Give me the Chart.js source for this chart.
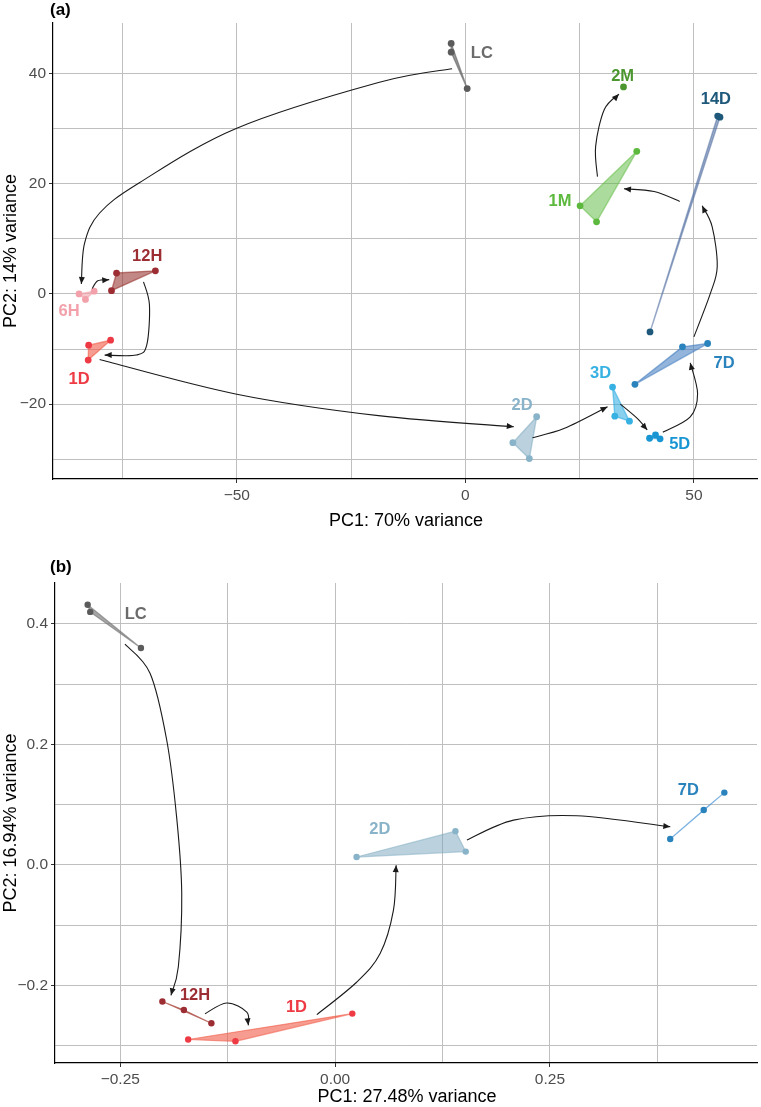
<!DOCTYPE html>
<html>
<head>
<meta charset="utf-8">
<script src="https://cdn.jsdelivr.net/npm/chart.js@4.4.1/dist/chart.umd.min.js"></script>
<style>
  body { margin: 0; background: #fff; }
  #wrap { position: relative; width: 761px; height: 1107px; }
  canvas { position: absolute; left: 0; }
</style>
</head>
<body>
<div id="wrap">
  <canvas id="chartA" width="761" height="540" style="top:0"></canvas>
  <canvas id="chartB" width="761" height="567" style="top:540px"></canvas>
</div>
<script>
// ---- panel (a) ----
const groupsA = ['LC', '6H', '12H', '1D', '2D', '3D', '5D', '7D', '14D', '1M', '2M'];
const pc1A = [
  [-3.1, -3.1, 0.4],
  [-84.5, -83.1, -81.2],
  [-76.3, -67.8, -77.4],
  [-82.4, -77.6, -82.5],
  [15.6, 10.4, 14.0],
  [32.2, 32.7, 35.9],
  [40.3, 41.6, 42.6],
  [37.1, 47.5, 53.0],
  [40.4, 55.2, 55.7],
  [37.5, 25.1, 28.7],
  [34.6]
];
const pc2A = [
  [45.5, 43.9, 37.3],
  [0.0, -1.0, 0.5],
  [3.8, 4.2, 0.6],
  [-9.3, -8.4, -12.0],
  [-22.3, -27.0, -29.9],
  [-16.9, -22.2, -23.1],
  [-26.2, -25.6, -26.3],
  [-16.4, -9.6, -9.0],
  [-6.9, 32.3, 32.1],
  [25.9, 16.0, 13.1],
  [37.6]
];
// where each group name sits (data units)
const labelPosA = [
  [3.6, 43.6], [-86.7, -3.1], [-69.6, 6.8], [-84.5, -15.5], [12.4, -20.2],
  [29.6, -14.5], [46.9, -27.3], [56.6, -12.6], [54.8, 35.4], [20.7, 16.8], [34.4, 39.5]
];
// trajectory arrows (data units, through-points)
const arrowsA = [
  [[-2.9, 40.9], [-19.0, 38.4], [-50.0, 30.1], [-71.3, 20.2], [-80.0, 14.7], [-83.3, 9.2], [-84.0, 1.8]],
  [[-81.6, 1.0], [-80.4, 2.4], [-77.9, 2.6]],
  [[-70.4, 2.2], [-69.1, -2.0], [-69.7, -9.3], [-72.0, -11.1], [-78.9, -11.1]],
  [[-80.0, -11.9], [-50.0, -18.2], [-19.0, -22.1], [10.6, -24.1]],
  [[14.7, -26.1], [21.7, -24.4], [31.1, -20.5]],
  [[33.9, -20.0], [37.6, -22.6], [39.8, -24.7]],
  [[43.2, -25.1], [49.2, -22.3], [50.8, -18.1], [49.2, -12.5]],
  [[50.0, -7.8], [53.6, 0.1], [55.1, 5.0], [54.0, 12.2], [51.8, 16.0]],
  [[46.9, 16.8], [41.3, 18.6], [34.7, 19.1]],
  [[28.9, 21.3], [28.5, 26.8], [30.4, 33.5], [33.6, 36.3]]
];
const xTicksA = [-75, -50, -25, 0, 25, 50];
const xMajorA = [-50, 0, 50];
const yTicksA = [-30, -20, -10, 0, 10, 20, 30, 40];
const yMajorA = [-20, 0, 20, 40];

const pointColA = ['#5b5b5b', '#f2a1aa', '#9b2d33', '#ee3a44', '#89b3c8', '#36b1e2',
  '#1796d3', '#2a83bd', '#1e587b', '#5cb93d', '#4c962f'];
const hullColA = ['rgba(110,110,110,0.7)', 'rgba(242,161,170,0.6)', 'rgba(150,50,45,0.58)',
  'rgba(240,90,70,0.6)', 'rgba(120,165,190,0.5)', 'rgba(40,170,225,0.55)', 'rgba(25,150,210,0.5)',
  'rgba(60,120,190,0.55)', 'rgba(80,110,160,0.55)', 'rgba(90,185,60,0.5)', 'rgba(76,150,47,0.5)'];
const labelColA = ['#6b6b6b', '#f2a1aa', '#9b2d33', '#ee3a44', '#89b3c8', '#36b1e2',
  '#1796d3', '#2a83bd', '#1e587b', '#5cb93d', '#4c962f'];

// ---- panel (b) ----
const groupsB = ['LC', '12H', '1D', '2D', '7D'];
const pc1B = [
  [-0.288, -0.285, -0.226],
  [-0.201, -0.176, -0.144],
  [-0.171, -0.116, 0.020],
  [0.025, 0.140, 0.152],
  [0.390, 0.429, 0.453]
];
const pc2B = [
  [0.432, 0.420, 0.360],
  [-0.227, -0.241, -0.263],
  [-0.290, -0.293, -0.247],
  [0.013, 0.056, 0.022],
  [0.043, 0.091, 0.120]
];
const labelPosB = [[-0.232, 0.415], [-0.163, -0.217], [-0.045, -0.236], [0.052, 0.058], [0.411, 0.123]];
const arrowsB = [
  [[-0.2446, 0.3664], [-0.2154, 0.3182], [-0.196, 0.2073], [-0.1843, 0.0771], [-0.1785, -0.0475], [-0.1825, -0.1696], [-0.191, -0.2166]],
  [[-0.1514, -0.2471], [-0.1261, -0.2294], [-0.1028, -0.2444], [-0.1010, -0.2665]],
  [[-0.0213, -0.2488], [0.0253, -0.1945], [0.0524, -0.1473], [0.0679, -0.0753], [0.0710, -0.0005]],
  [[0.1534, 0.0411], [0.2077, 0.0743], [0.2815, 0.0815], [0.3901, 0.0632]]
];
const xTicksB = [-0.25, -0.125, 0, 0.125, 0.25, 0.375];
const xMajorB = [-0.25, 0, 0.25];
const yTicksB = [-0.3, -0.2, -0.1, 0, 0.1, 0.2, 0.3, 0.4];
const yMajorB = [-0.2, 0, 0.2, 0.4];

const pointColB = ['#5b5b5b', '#9b2d33', '#ee3a44', '#89b3c8', '#2a83bd'];
const hullColB = ['rgba(120,120,120,0.65)', 'rgba(170,70,60,0.7)', 'rgba(240,90,70,0.6)',
  'rgba(120,165,190,0.5)', 'rgba(60,140,210,0.65)'];
const labelColB = ['#6b6b6b', '#9b2d33', '#ee3a44', '#89b3c8', '#2a83bd'];

const FONT = "'Liberation Sans', Arial, sans-serif";
const GRID = '#bfbfbf';

function isMajor(list, v) {
  return list.some(m => Math.abs(m - v) < 1e-9);
}

function drawArrow(ctx, pts) {
  ctx.beginPath();
  ctx.moveTo(pts[0].x, pts[0].y);
  let c2 = pts[0];
  for (let i = 0; i < pts.length - 1; i++) {
    const p0 = pts[Math.max(i - 1, 0)], p1 = pts[i], p2 = pts[i + 1], p3 = pts[Math.min(i + 2, pts.length - 1)];
    const c1 = { x: p1.x + (p2.x - p0.x) / 6, y: p1.y + (p2.y - p0.y) / 6 };
    c2 = { x: p2.x - (p3.x - p1.x) / 6, y: p2.y - (p3.y - p1.y) / 6 };
    ctx.bezierCurveTo(c1.x, c1.y, c2.x, c2.y, p2.x, p2.y);
  }
  ctx.stroke();
  const end = pts[pts.length - 1];
  const a = Math.atan2(end.y - c2.y, end.x - c2.x);
  const len = 7, half = 3;
  ctx.beginPath();
  ctx.moveTo(end.x, end.y);
  ctx.lineTo(end.x - len * Math.cos(a) + half * Math.sin(a), end.y - len * Math.sin(a) - half * Math.cos(a));
  ctx.lineTo(end.x - len * Math.cos(a) - half * Math.sin(a), end.y - len * Math.sin(a) + half * Math.cos(a));
  ctx.closePath();
  ctx.fill();
}

function makeDecor(spec) {
  return {
    id: 'decor',
    beforeDatasetsDraw(chart) {
      const { ctx, scales: { x, y } } = chart;
      ctx.save();
      spec.xs.forEach((xs, g) => {
        if (xs.length < 2) return;
        ctx.beginPath();
        xs.forEach((v, i) => {
          const px = x.getPixelForValue(v), py = y.getPixelForValue(spec.ys[g][i]);
          if (i === 0) ctx.moveTo(px, py); else ctx.lineTo(px, py);
        });
        ctx.closePath();
        ctx.fillStyle = spec.hullCol[g];
        ctx.strokeStyle = spec.hullCol[g];
        ctx.lineWidth = spec.hullWidth;
        ctx.lineJoin = 'round';
        ctx.fill();
        ctx.stroke();
      });
      ctx.restore();
    },
    afterDatasetsDraw(chart) {
      const { ctx, scales: { x, y }, chartArea } = chart;
      ctx.save();
      ctx.strokeStyle = '#1a1a1a';
      ctx.fillStyle = '#1a1a1a';
      ctx.lineWidth = 1.1;
      spec.arrows.forEach(a => {
        drawArrow(ctx, a.map(p => ({ x: x.getPixelForValue(p[0]), y: y.getPixelForValue(p[1]) })));
      });
      ctx.font = 'bold 16.5px ' + FONT;
      ctx.textAlign = 'center';
      ctx.textBaseline = 'middle';
      spec.groups.forEach((name, g) => {
        ctx.fillStyle = spec.labelCol[g];
        ctx.fillText(name, x.getPixelForValue(spec.labelPos[g][0]), y.getPixelForValue(spec.labelPos[g][1]));
      });
      // axis titles and panel tag
      ctx.fillStyle = '#000';
      ctx.font = '18px ' + FONT;
      ctx.fillText(spec.xTitle, (chartArea.left + chartArea.right) / 2 + 1, spec.xTitleY);
      ctx.save();
      ctx.translate(11, (chartArea.top + chartArea.bottom) / 2);
      ctx.rotate(-Math.PI / 2);
      ctx.fillText(spec.yTitle, 0, 0);
      ctx.restore();
      ctx.font = 'bold 17px ' + FONT;
      ctx.textAlign = 'left';
      ctx.fillText(spec.tag, 50, spec.tagY);
      ctx.restore();
    }
  };
}

function makeChart(id, spec) {
  const datasets = spec.groups.map((name, g) => ({
    label: name,
    data: spec.xs[g].map((v, i) => ({ x: v, y: spec.ys[g][i] })),
    backgroundColor: spec.pointCol[g],
    borderColor: spec.pointCol[g],
    pointRadius: spec.radius,
    borderWidth: 0
  }));
  const fmt = v => (v < 0 ? '\u2212' : '') + Math.abs(v).toFixed(spec.digits);
  const fmtX = v => (v < 0 ? '\u2212' : '') + Math.abs(v).toFixed(spec.xDigits);
  return new Chart(document.getElementById(id), {
    type: 'scatter',
    data: { datasets },
    options: {
      responsive: false,
      animation: false,
      layout: { padding: spec.padding },
      plugins: { legend: { display: false }, tooltip: { enabled: false } },
      scales: {
        x: {
          type: 'linear',
          min: spec.xMin, max: spec.xMax,
          afterBuildTicks: s => { s.ticks = spec.xTicks.map(v => ({ value: v })); },
          afterFit: s => { s.height = spec.xAxisH; },
          ticks: {
            color: '#4d4d4d', font: { family: FONT, size: 15.5 }, padding: 3, maxRotation: 0,
            callback: v => isMajor(spec.xMajor, v) ? fmtX(v) : ''
          },
          grid: {
            color: GRID, lineWidth: 1, tickLength: 4,
            tickColor: c => isMajor(spec.xMajor, c.tick.value) ? '#333' : 'rgba(0,0,0,0)'
          },
          border: { display: true, color: '#000', width: 1.2 }
        },
        y: {
          type: 'linear',
          min: spec.yMin, max: spec.yMax,
          afterBuildTicks: s => { s.ticks = spec.yTicks.map(v => ({ value: v })); },
          afterFit: s => { s.width = spec.yAxisW; },
          ticks: {
            color: '#4d4d4d', font: { family: FONT, size: 15.5 }, padding: 3,
            callback: v => isMajor(spec.yMajor, v) ? fmt(v) : ''
          },
          grid: {
            color: GRID, lineWidth: 1, tickLength: 4,
            tickColor: c => isMajor(spec.yMajor, c.tick.value) ? '#333' : 'rgba(0,0,0,0)'
          },
          border: { display: true, color: '#000', width: 1.2 }
        }
      }
    },
    plugins: [makeDecor(spec)]
  });
}

makeChart('chartA', {
  groups: groupsA, xs: pc1A, ys: pc2A, labelPos: labelPosA, arrows: arrowsA,
  pointCol: pointColA, hullCol: hullColA, labelCol: labelColA, hullWidth: 1.4, radius: 3.4,
  xMin: -90.2, xMax: 63.8, yMin: -33.6, yMax: 49.2,
  xTicks: xTicksA, xMajor: xMajorA, yTicks: yTicksA, yMajor: yMajorA, digits: 0, xDigits: 0,
  padding: { top: 23, right: 1, left: 0, bottom: 0 }, xAxisH: 61, yAxisW: 53,
  xTitle: 'PC1: 70% variance', yTitle: 'PC2: 14% variance', xTitleY: 521, tag: '(a)', tagY: 10
});

makeChart('chartB', {
  groups: groupsB, xs: pc1B, ys: pc2B, labelPos: labelPosB, arrows: arrowsB,
  pointCol: pointColB, hullCol: hullColB, labelCol: labelColB, hullWidth: 1.2, radius: 3.2,
  xMin: -0.326, xMax: 0.491, yMin: -0.329, yMax: 0.468,
  xTicks: xTicksB, xMajor: xMajorB, yTicks: yTicksB, yMajor: yMajorB, digits: 1, xDigits: 2,
  padding: { top: 43, right: 4, left: 0, bottom: 0 }, xAxisH: 44, yAxisW: 55,
  xTitle: 'PC1: 27.48% variance', yTitle: 'PC2: 16.94% variance', xTitleY: 557, tag: '(b)', tagY: 27
});
</script>
</body>
</html>
